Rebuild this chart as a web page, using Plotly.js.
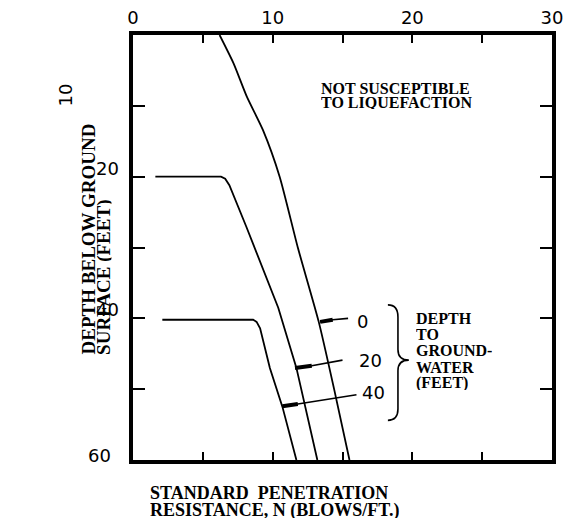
<!DOCTYPE html>
<html>
<head>
<meta charset="utf-8">
<script src="https://cdn.plot.ly/plotly-3.0.1.min.js"></script>
<style>html,body{margin:0;padding:0;background:#fff}#chart{width:566px;height:519px}</style>
</head>
<body>
<div id="chart"></div>
<script>
// ---- data ----
// Curves: boundary of liquefaction susceptibility, by depth to groundwater
const gw0_N  = [6.2, 7.2, 8.15, 9.3, 10.5, 11.8, 13.3, 14.4, 15.5];
const gw0_D  = [0, 4, 8.7, 13.4, 20, 30, 40.5, 50, 60];
const gw20_N = [1.6, 6.3, 6.6, 6.9, 8.1, 9.3, 10.4, 11.7, 13.2];
const gw20_D = [20, 20, 20.3, 21.2, 27, 33, 38.5, 47, 60];
const gw40_N = [2.1, 8.6, 8.85, 9.1, 9.8, 10.7, 11.7];
const gw40_D = [40.2, 40.2, 40.5, 41.4, 47, 52.5, 60];
// leader lines from curves to labels
const lead0_N  = [13.4, 14.3, 15.4];  const lead0_D  = [40.5, 40.2, 40.0];
const lead20_N = [11.6, 12.8, 15.0];  const lead20_D = [47.0, 46.7, 45.9];
const lead40_N = [10.7, 11.8, 16.0];  const lead40_D = [52.4, 52.1, 50.8];
const curveLabels = ['0', '20', '40'];
const curveLabelN = [16.4, 17.0, 17.2];
const curveLabelD = [40.4, 46.0, 50.5];
// axes
const xTickVals = [0, 5, 10, 15, 20, 25, 30];
const xTickText = ['0', '', '10', '', '20', '', '30'];
const yTickVals = [0, 10, 20, 30, 40, 50, 60];
const depthLabels = ['20', '40', '60'];

const ink = '#000';
function curve(x, y, w, shape) {
  return {x: x, y: y, mode: 'lines', type: 'scatter', hoverinfo: 'skip',
          line: {color: ink, width: w, shape: shape, smoothing: 0.6}, showlegend: false};
}
function seg(x, y, w) {
  return {x: x, y: y, mode: 'lines', type: 'scatter', hoverinfo: 'skip',
          line: {color: ink, width: w}, showlegend: false};
}
const traces = [
  curve(gw0_N, gw0_D, 1.8, 'spline'),
  curve(gw20_N, gw20_D, 1.8, 'linear'),
  curve(gw40_N, gw40_D, 1.8, 'linear'),
  seg(lead0_N, lead0_D, 1.6),  seg(lead0_N.slice(0,2), lead0_D.slice(0,2), 4),
  seg(lead20_N, lead20_D, 1.6), seg(lead20_N.slice(0,2), lead20_D.slice(0,2), 4),
  seg(lead40_N, lead40_D, 1.6), seg(lead40_N.slice(0,2), lead40_D.slice(0,2), 4)
];

const serif = {family: 'Liberation Serif, Times New Roman, serif', size: 16, color: ink, weight: 'bold'};
const hand = {family: 'DejaVu Sans, sans-serif', size: 18, color: ink};
const ann = [];
function txtD(t, x, y, font, xa, h) {
  const a = {text: t, x: x, y: y, xref: 'x', yref: 'y', showarrow: false, font: font,
            xanchor: xa || 'center', yanchor: 'middle'};
  if (h) a.height = h;
  ann.push(a);
}
function txtP(t, x, y, font, xa, ya, ang, h) {
  const a = {text: t, x: x, y: y, xref: 'paper', yref: 'paper', showarrow: false, font: font,
            xanchor: xa || 'center', yanchor: ya || 'middle', textangle: ang || 0};
  if (h) a.height = h;
  ann.push(a);
}
// region label
txtD('NOT SUSCEPTIBLE', 13.35, 7.6, serif, 'left', 13);
txtD('TO LIQUEFACTION', 13.35, 9.5, serif, 'left', 13);
// groundwater legend
const gwLines = ['DEPTH', 'TO', 'GROUND-', 'WATER', '(FEET)'];
const gwLineD = [40.0, 42.3, 44.6, 46.9, 49.1];
gwLines.forEach((t, i) => txtD(t, 20.15, gwLineD[i], serif, 'left', 15));
// curve labels
curveLabels.forEach((t, i) => txtD(t, curveLabelN[i], curveLabelD[i], hand));
// axis titles
const big = Object.assign({}, serif, {size: 18});
txtP('STANDARD  PENETRATION', 0.036, -0.078, big, 'left', 'middle', 0, 16);
txtP('RESISTANCE, N (BLOWS/FT.)', 0.036, -0.118, big, 'left', 'middle', 0, 16);
const yt = Object.assign({}, serif, {size: 19});
txtP('DEPTH BELOW GROUND', -0.107, 0.243, yt, 'center', 'bottom', -90, 15);
txtP('SURFACE (FEET)', -0.070, 0.243, yt, 'center', 'bottom', -90, 15);
// hand-lettered depth labels
txtP('10', -0.16, 0.86, hand, 'center', 'middle', -90);
txtP(depthLabels[0], -0.06, 0.687, hand);
txtP(depthLabels[1], -0.06, 0.353, hand);
txtP(depthLabels[2], -0.079, 0.01, hand);

const brace = 'M 18.25,38.1 Q 18.97,38.1 18.97,39.8 L 18.97,44.4 Q 18.97,45.9 19.75,45.9 ' +
              'Q 18.97,45.9 18.97,47.4 L 18.97,52.8 Q 18.97,54.4 18.25,54.4';

const layout = {
  width: 566, height: 519,
  margin: {l: 133, r: 14, t: 35, b: 59, pad: 0},
  paper_bgcolor: '#fff', plot_bgcolor: '#fff',
  showlegend: false,
  xaxis: {range: [0, 30], side: 'top', tickmode: 'array', tickvals: xTickVals, ticktext: xTickText,
          ticks: 'inside', ticklen: 8, tickwidth: 2, tickcolor: ink,
          showline: true, linewidth: 4, linecolor: ink, mirror: 'ticks',
          showgrid: false, zeroline: false, fixedrange: true,
          tickfont: {family: 'DejaVu Sans, sans-serif', size: 18, color: ink}},
  yaxis: {range: [60, 0], tickmode: 'array', tickvals: yTickVals, showticklabels: false,
          ticks: 'inside', ticklen: 12, tickwidth: 2, tickcolor: ink,
          showline: true, linewidth: 4, linecolor: ink, mirror: 'ticks',
          showgrid: false, zeroline: false, fixedrange: true},
  annotations: ann,
  shapes: [{type: 'path', xref: 'x', yref: 'y', path: brace, line: {color: ink, width: 1.6}}]
};
Plotly.newPlot('chart', traces, layout, {displayModeBar: false, staticPlot: true});
</script>
</body>
</html>
